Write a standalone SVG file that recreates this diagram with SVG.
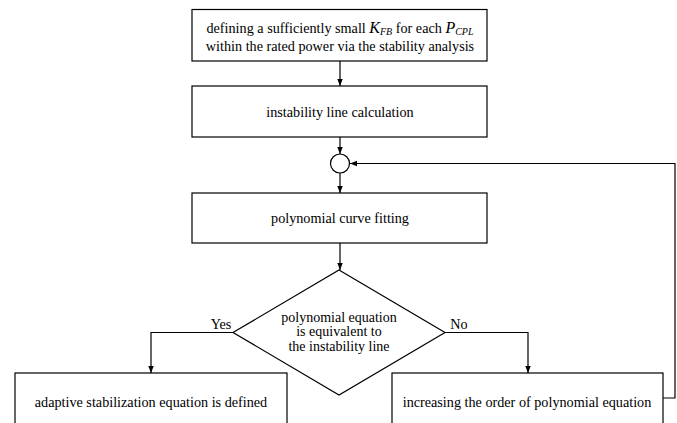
<svg xmlns="http://www.w3.org/2000/svg" width="677" height="423" viewBox="0 0 677 423">
<style>
.box{fill:#fff;stroke:#000;stroke-width:1.2}
.ln{fill:none;stroke:#000;stroke-width:1.2}
text{font-family:"Liberation Serif","Times New Roman","DejaVu Serif",serif;font-size:14.2px;fill:#000}
.c{text-anchor:middle}
.i{font-style:italic}
.d{font-size:14px}
</style>
<defs>
<marker id="ah" markerWidth="7" markerHeight="10" refX="9" refY="3.5" orient="auto" markerUnits="userSpaceOnUse" viewBox="0 0 9 7">
<path d="M0,0 L9,3.5 L0,7 Z" fill="#000"/>
</marker>
</defs>
<rect width="677" height="423" fill="#fff"/>
<g id="connectors">
<line class="ln" x1="340" y1="61" x2="340" y2="86" marker-end="url(#ah)"/>
<line class="ln" x1="340" y1="137" x2="340" y2="154" marker-end="url(#ah)"/>
<line class="ln" x1="340" y1="173" x2="340" y2="193" marker-end="url(#ah)"/>
<line class="ln" x1="340" y1="243" x2="340" y2="270" marker-end="url(#ah)"/>
<polyline class="ln" points="233,332.5 151,332.5 151,373" marker-end="url(#ah)"/>
<polyline class="ln" points="445,332.5 528,332.5 528,373" marker-end="url(#ah)"/>
<polyline class="ln" points="663,398 675,398 675,163.5 350,163.5" marker-end="url(#ah)"/>
<text x="221" y="329" class="c">Yes</text>
<text x="459" y="329" class="c">No</text>
</g>
<g id="n1">
<rect class="box" x="192" y="9.5" width="295" height="51.5"/>
<text x="340" y="33" class="c">defining a sufficiently small <tspan class="i" font-size="16">K</tspan><tspan class="i" font-size="10" dy="2">FB</tspan><tspan dy="-2"> for each </tspan><tspan class="i" font-size="16">P</tspan><tspan class="i" font-size="10" dy="2">CPL</tspan></text>
<text x="340" y="51" class="c">within the rated power via the stability analysis</text>
</g>
<g id="n2">
<rect class="box" x="192" y="86" width="295" height="51"/>
<text x="340" y="117" class="c">instability line calculation</text>
</g>
<g id="junction">
<circle class="box" cx="340" cy="163.5" r="9.5"/>
</g>
<g id="n3">
<rect class="box" x="192" y="193" width="295" height="50"/>
<text x="340" y="223" class="c">polynomial curve fitting</text>
</g>
<g id="decision">
<polygon class="box" points="339,270 445,332.5 339,395 233,332.5"/>
<text x="339" y="321.5" class="c d">polynomial equation</text>
<text x="339" y="336" class="c d">is equivalent to</text>
<text x="339" y="350.5" class="c d">the instability line</text>
</g>
<g id="yes">
<rect class="box" x="15" y="373" width="272" height="60"/>
<text x="151" y="407" class="c">adaptive stabilization equation is defined</text>
</g>
<g id="no">
<rect class="box" x="392" y="373" width="271" height="60"/>
<text x="527" y="407" class="c">increasing the order of polynomial equation</text>
</g>
</svg>
